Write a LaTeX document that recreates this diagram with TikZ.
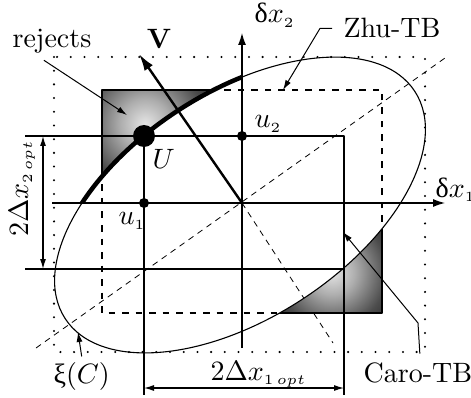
\documentclass[tikz,border=0pt]{standalone}
\usepackage{fontspec}
\newfontfamily\grk{Liberation Serif}
\usetikzlibrary{arrows.meta}
\pgfdeclareradialshading{glow}{\pgfpoint{0bp}{0bp}}{color(0bp)=(black!10); color(8bp)=(black!32); color(19bp)=(black!70); color(25bp)=(black!82); color(50bp)=(black!85)}
\begin{document}
\begin{tikzpicture}[x=1pt,y=-1pt,line join=round,
  thinl/.style={line width=1.1pt},
  dotbox/.style={line width=2.3pt, line cap=round, dash pattern=on 0pt off 13.7pt},
  dashbox/.style={line width=1.9pt, dash pattern=on 6.5pt off 7pt},
  axdash/.style={line width=0.8pt, dash pattern=on 6pt off 5pt},
  ell/.style={rotate around={33:(ctr)}},
  ellr/.style={x radius=208.5, y radius=113},
  lead/.style={line width=1pt, -{Latex[length=10pt,width=6pt]}},
  axarr/.style={-{Latex[length=12pt,width=8pt]}},
  dimarr/.style={{Latex[length=10pt,width=6pt]}-{Latex[length=10pt,width=6pt]}},
  dot/.style={circle, fill=black, inner sep=0pt},
  lbl/.style={inner sep=0pt, anchor=base west, scale=2.8}]
\useasboundingbox (0,0) rectangle (471,398);
\coordinate (ctr) at (240,205);
\coordinate (O) at (242,203);
% shaded reject regions
\begin{scope}
  \clip (102,90) rectangle (242,203);
  \shade[shading=glow] (145,124) circle (78);
\end{scope}
\begin{scope}
  \clip (242,203) rectangle (382,313);
  \shade[shading=glow] (332,272) circle (72);
\end{scope}
\draw[thinl] (102,203) -- (102,90) -- (242,90);
\draw[thinl] (382,203) -- (382,313) -- (242,313);
\fill[white, ell] (ctr) ellipse [ellr];
% dotted bounding box
\draw[dotbox] (54,57) rectangle (425,352);
% dashed box (Zhu-TB) and minor axis inside the ellipse
\coordinate (minB) at (333,343);
\begin{scope}
  \clip[ell] (ctr) ellipse [ellr];
  \draw[dashbox] (102,90) rectangle (382,313);
  \draw[axdash] (O) -- (minB);
\end{scope}
\begin{scope}
  \clip (0,313) rectangle (471,398);
  \draw[axdash] (O) -- (minB);
\end{scope}
\coordinate (majA) at (36,348);
\coordinate (majB) at (445,58);
\draw[axdash] (majA) -- (majB);
% solid box and extension lines
\draw[thinl] (25,136) -- (344,136) -- (344,395);
\draw[thinl] (25,269) -- (344,269);
\draw[thinl] (144,136) -- (144,395);
\draw[thinl, dimarr] (43,136) -- (43,269);
\draw[thinl, dimarr] (144,388) -- (344,388);
% axes
\draw[thinl, axarr] (52,203) -- (445,203);
\draw[thinl, axarr] (242,348) -- (242,33);
% ellipse
\draw[thinl, ell] (ctr) ellipse [ellr];
\begin{scope}
  \clip (0,0) rectangle (242,203);
  \draw[line width=4.5pt, ell] (ctr) ellipse [ellr];
\end{scope}
% V arrow
\coordinate (Vtip) at (139,54);
\draw[line width=2.4pt, -{Latex[length=17pt,width=10pt]}] (O) -- (Vtip);
% points
\node[dot, minimum size=22pt] (Udot) at (144,136) {};
\node[dot, minimum size=10pt] (u2dot) at (242,136) {};
\node[dot, minimum size=10pt] (u1dot) at (144,203) {};
% labels
\node[lbl] (rej) at (12,48) {rejects};
\node[anchor=base, inner sep=0pt, scale=2.8] (V) at (159,49) {\textbf{V}};
\node[lbl] (dx2) at (254,23) {{\grk δ}$x_{\scriptscriptstyle 2}$};
\node[lbl] (dx1) at (435,197) {{\grk δ}$x_{\scriptscriptstyle 1}$};
\node[lbl] (zhu) at (343,38) {Zhu-TB};
\node[lbl] (caro) at (363,382) {Caro-TB};
\node[lbl] (xi) at (53,383) {{\grk ξ}$(C)$};
\node[lbl] (Ulab) at (152,169) {$U$};
\node[lbl] (u2lab) at (254,128) {$u_{\scriptscriptstyle 2}$};
\node[lbl] (u1lab) at (118,225) {$u_{\scriptscriptstyle 1}$};
\node[lbl, rotate=90] (d2lab) at (28,237) {$2\Delta x_{\scriptscriptstyle 2\,opt}$};
\node[lbl] (d1lab) at (210,380) {$2\Delta x_{\scriptscriptstyle 1\,opt}$};
% leaders
\coordinate (rejtip) at (127,115);
\draw[lead] ([shift={(-8,6)}]rej.south) -- (rejtip);
\coordinate (zhutip) at (283,90);
\draw[lead] ([shift={(-11,0)}]zhu.west) -- ++(-12,0) -- (zhutip);
\coordinate (carobend) at (418,323);
\coordinate (carotip) at (343,232);
\draw[lead] ([shift={(2,-8)}]caro.north) -- (carobend) -- (carotip);
\coordinate (xitip) at (78,332);
\draw[lead] ([shift={(0,-5)}]xi.north) -- (xitip);
\end{tikzpicture}
\end{document}
